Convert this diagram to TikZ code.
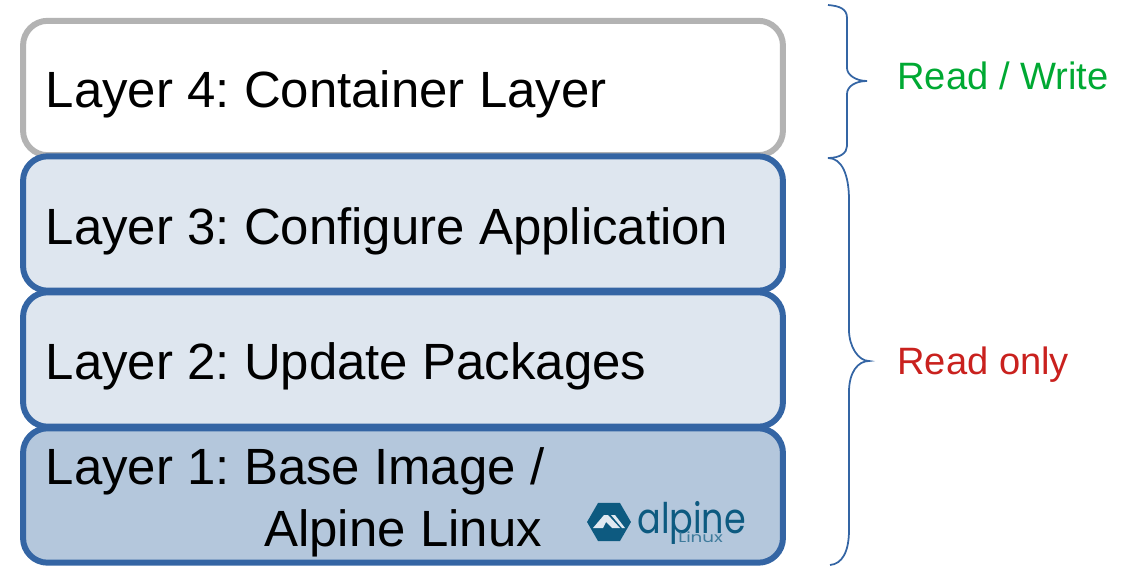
\documentclass[tikz,border=0pt]{standalone}
\usepackage{fontspec}
\setmainfont{Liberation Sans}
\newfontfamily\logofont[FakeStretch=0.83]{Poppins}
\newfontfamily\logosmall[FakeStretch=1.3]{Poppins}
\usepackage{xcolor}
\usetikzlibrary{shapes.geometric}
\definecolor{layerblue}{HTML}{3465A4}
\definecolor{layergray}{HTML}{B3B3B3}
\definecolor{layerlight}{HTML}{DEE6EF}
\definecolor{layerdark}{HTML}{B4C7DC}
\definecolor{rwgreen}{HTML}{00A933}
\definecolor{rored}{HTML}{C9211E}
\definecolor{logoblue}{HTML}{0D5A80}
\tikzset{
  layerbox/.style={draw=layerblue, line width=3.4pt, rounded corners=14pt, minimum width=432.5pt, minimum height=76.5pt, inner sep=0pt},
  layertext/.style={anchor=base west, inner sep=0pt, font=\fontsize{29}{34}\selectfont},
  sidetext/.style={anchor=base west, inner sep=0pt, font=\fontsize{21.7}{26}\selectfont},
  bracepath/.style={draw=layerblue, line width=1pt}
}
\begin{document}
\frenchspacing
\begin{tikzpicture}[x=0.02cm, y=-0.02cm]
  \useasboundingbox (0,0) rectangle (1126,588);

  \node[layerbox, draw=layergray, fill=white] (layerfour) at (403,88) {};
  \node[layerbox, fill=layerlight] (layerthree) at (403,223.5) {};
  \node[layerbox, fill=layerlight] (layertwo) at (403,359.5) {};
  \node[layerbox, fill=layerdark] (layerone) at (403,495.5) {};

  \node[layertext] (textfour) at (45.5,108) {Layer 4: Container Layer};
  \node[layertext] (textthree) at (45.5,244) {Layer 3: Configure Application};
  \node[layertext] (texttwo) at (45.5,379) {Layer 2: Update Packages};
  \node[layertext] (textone) at (45.5,484) {Layer 1: Base Image /};
  \node[layertext] (textonebis) at (264,546) {Alpine Linux};

  % logo
  \node[regular polygon, regular polygon sides=6, fill=logoblue, minimum size=25pt, inner sep=0pt] (logohex) at (609,522) {};
  \fill[layerdark!40!white] (593,528) -- (604,515) -- (608,515) -- (620,528) -- (612,528) -- (606,522) -- (603,528) -- cycle;
  \fill[layerdark!40!white] (611,515) -- (615,515) -- (625,528) -- (622,528) -- cycle;
  \node[anchor=base west, inner sep=0pt, text=logoblue, font=\logofont\fontsize{24}{28}\selectfont] (logoname) at (637,533) {alpine};
  \node[anchor=base west, inner sep=0pt, text=logoblue!70!layerdark, font=\logosmall\fontsize{8}{9}\selectfont] (logolinux) at (678,542) {Linux};

  % braces
  \coordinate (rwtop) at (828,5);
  \coordinate (rwtip) at (867,81);
  \coordinate (rwend) at (828,158);
  \coordinate (rotop) at (828,158);
  \coordinate (rotip) at (869,361);
  \coordinate (roend) at (830,565);
  \draw[bracepath] (rwtop) .. controls (840,6) and (847,9) .. (847,18) -- (847,68)
    .. controls (847,75) and (856,81) .. (rwtip) .. controls (856,81) and (847,86) .. (847,94)
    -- (847,146) .. controls (847,153) and (840,158) .. (rwend);
  \draw[bracepath] (rotop) .. controls (842,158) and (849,175) .. (849,200) -- (849,330)
    .. controls (849,346) and (858,361) .. (rotip) .. controls (858,361) and (849,372) .. (849,392)
    -- (849,530) .. controls (849,552) and (842,564) .. (roend);

  \node[sidetext, text=rwgreen] (rwlabel) at (897,90) {Read / Write};
  \node[sidetext, text=rored] (rolabel) at (897,374) {Read only};
\end{tikzpicture}
\end{document}
